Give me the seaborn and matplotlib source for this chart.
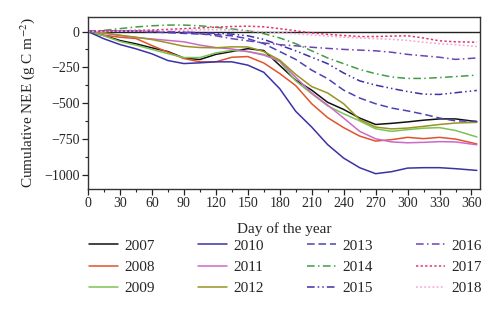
import matplotlib
matplotlib.use("Agg")
import matplotlib.pyplot as plt
from matplotlib.ticker import MultipleLocator
import numpy as np
import pandas as pd
import seaborn as sns

# Day of year at which the cumulative sums are sampled
days = [0, 15, 30, 45, 60, 75, 90, 105, 120, 135, 150, 165, 180, 195, 210,
        225, 240, 255, 270, 285, 300, 315, 330, 345, 365]

# Cumulative NEE (g C m-2) per year
nee_2007 = [0, -28, -63, -86, -114, -140, -185, -196, -160, -140, -120, -133, -237,
            -340, -410, -495, -545, -605, -650, -642, -632, -620, -611, -611, -630]
nee_2008 = [0, -26, -40, -49, -98, -145, -189, -212, -212, -180, -175, -220, -294,
            -378, -505, -602, -672, -731, -766, -756, -740, -749, -740, -752, -786]
nee_2009 = [0, -30, -70, -95, -125, -155, -182, -182, -150, -132, -140, -160, -210,
            -345, -435, -520, -575, -625, -680, -698, -686, -676, -672, -692, -737]
nee_2010 = [0, -51, -91, -121, -156, -203, -224, -219, -212, -212, -235, -285, -400,
            -558, -668, -791, -885, -952, -994, -980, -955, -952, -952, -959, -971]
nee_2011 = [0, -12, -28, -42, -52, -62, -72, -95, -112, -122, -140, -165, -205,
            -320, -430, -515, -605, -698, -750, -772, -778, -775, -770, -772, -792]
nee_2012 = [0, -9, -26, -40, -56, -79, -103, -112, -114, -107, -108, -140, -200,
            -300, -385, -430, -505, -615, -668, -681, -675, -663, -650, -640, -635]
nee_2013 = [0, 5, 5, 2, -3, -8, -13, -18, -22, -30, -50, -85, -140,
            -195, -270, -330, -410, -465, -505, -535, -555, -578, -605, -625, -628]
nee_2014 = [0, 8, 20, 32, 40, 45, 45, 40, 30, 18, 5, -15, -45,
            -85, -135, -185, -225, -265, -295, -318, -328, -328, -322, -315, -305]
nee_2015 = [0, 2, 3, 3, 0, -3, -5, -8, -12, -18, -30, -55, -95,
            -135, -180, -225, -290, -345, -375, -398, -420, -438, -440, -428, -412]
nee_2016 = [0, 2, 5, 5, 3, 0, -5, -15, -30, -50, -65, -80, -92,
            -100, -110, -118, -125, -130, -135, -145, -160, -170, -180, -195, -185]
nee_2017 = [0, 2, 5, 8, 10, 15, 20, 25, 30, 35, 37, 33, 20,
            5, -10, -20, -28, -35, -35, -32, -30, -45, -65, -72, -75]
nee_2018 = [0, 0, 2, 3, 5, 7, 9, 11, 13, 10, 4, -2, -8,
            -15, -25, -32, -40, -45, -50, -55, -62, -75, -85, -92, -105]

years = ["2007", "2008", "2009", "2010", "2011", "2012",
         "2013", "2014", "2015", "2016", "2017", "2018"]
series = [nee_2007, nee_2008, nee_2009, nee_2010, nee_2011, nee_2012,
          nee_2013, nee_2014, nee_2015, nee_2016, nee_2017, nee_2018]

colors = {
    "2007": "#111111", "2008": "#e2522b", "2009": "#7cc255",
    "2010": "#3b32a6", "2011": "#cc6ac8", "2012": "#9a9326",
    "2013": "#4a43b3", "2014": "#3f9e44", "2015": "#3b32a6",
    "2016": "#7043b3", "2017": "#e0386c", "2018": "#f2a6d6",
}
dashes = {
    "2007": "", "2008": "", "2009": "", "2010": "", "2011": "", "2012": "",
    "2013": (5, 2.5), "2014": (5, 2.2, 1, 2.2), "2015": (5, 2, 1, 2, 1, 2),
    "2016": (5, 2.2, 1, 2.2), "2017": (1.5, 1.5), "2018": (1.2, 1.5),
}

df = pd.DataFrame({
    "day": np.tile(days, len(years)),
    "nee": np.concatenate(series),
    "year": np.repeat(years, len(days)),
})

sns.set_style("ticks")
plt.rcParams["font.family"] = ["Liberation Serif", "DejaVu Serif"]
plt.rcParams["mathtext.fontset"] = "stix"

fig = plt.figure(figsize=(5.0, 3.29), dpi=100)
ax = fig.add_axes([0.176, 0.426, 0.784, 0.523])

ax.axhline(0, color="#222222", lw=1.0, zorder=1)
sns.lineplot(data=df, x="day", y="nee", hue="year", style="year",
             palette=colors, dashes=dashes, linewidth=1.1, ax=ax,
             hue_order=years, style_order=years)

ax.set_xlim(0, 368)
ax.set_ylim(-1100, 103)
ax.xaxis.set_major_locator(MultipleLocator(30))
ax.xaxis.set_minor_locator(MultipleLocator(15))
ax.yaxis.set_major_locator(MultipleLocator(250))
ax.yaxis.set_minor_locator(MultipleLocator(125))
ax.tick_params(which="major", direction="out", length=4, width=0.9,
               labelsize=10, color="#222222", pad=2)
ax.tick_params(which="minor", direction="out", length=2.5, width=0.8,
               color="#222222")
for s in ax.spines.values():
    s.set_linewidth(1.0)
    s.set_color("#333333")

ax.set_xlabel("Day of the year", fontsize=11, labelpad=9)
ax.set_ylabel("Cumulative NEE (g C m$^{-2}$)", fontsize=11, labelpad=5)

handles, labels = ax.get_legend_handles_labels()
pairs = [(h, l) for h, l in zip(handles, labels) if l in years]
ax.get_legend().remove()
fig.legend([p[0] for p in pairs], [p[1] for p in pairs], ncol=4,
           loc="center", bbox_to_anchor=(0.571, 0.188), frameon=False,
           fontsize=11, handlelength=1.9, handletextpad=0.4,
           columnspacing=2.85, labelspacing=0.5)

fig.savefig("out.png", dpi=100)
